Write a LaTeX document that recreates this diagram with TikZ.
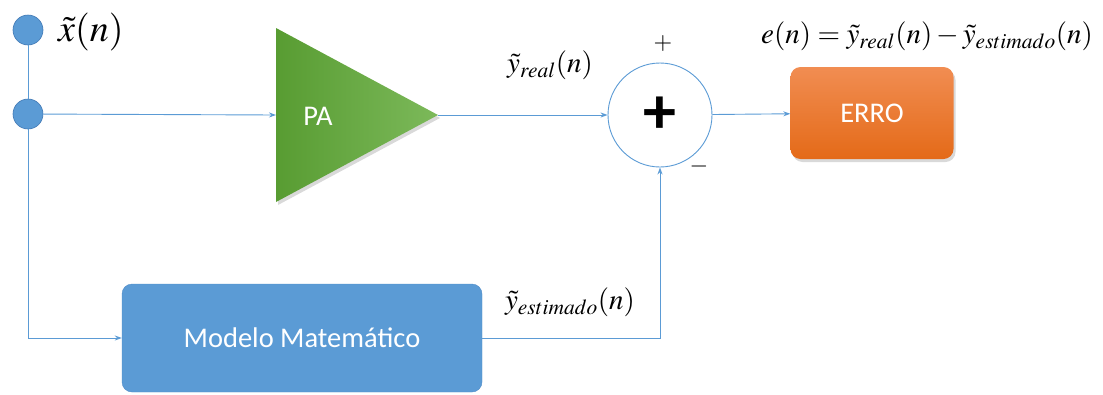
\documentclass[tikz,border=0pt]{standalone}
\usepackage{mathptmx}
\usepackage{fontspec}
\setmainfont{Carlito}
\usetikzlibrary{positioning,calc,arrows.meta,shadows}
\definecolor{lineblue}{RGB}{91,155,213}
\definecolor{dotblue}{RGB}{91,155,213}
\definecolor{dotedge}{RGB}{65,120,180}
\definecolor{paleft}{RGB}{88,156,50}
\definecolor{paright}{RGB}{124,185,90}
\definecolor{errotop}{RGB}{241,141,82}
\definecolor{errobot}{RGB}{228,106,24}
\definecolor{modelfill}{RGB}{91,155,213}
\definecolor{modeledge}{RGB}{80,140,200}

\begin{document}
\begin{tikzpicture}[
    x=1pt, y=-1pt,
    >={Stealth[length=7pt,width=5pt]},
    wire/.style={draw=lineblue, line width=0.9pt},
    arr/.style={wire, ->},
    dot/.style={circle, fill=dotblue, draw=dotedge, line width=0.6pt, minimum size=30pt, inner sep=0pt},
    block/.style={rounded corners=10pt, align=center, text=white, inner sep=0pt,
                  font=\fontsize{28.5}{30}\selectfont},
    model/.style={block, fill=modelfill, draw=modeledge, minimum width=360pt, minimum height=108pt},
    errobox/.style={block, top color=errotop, bottom color=errobot, minimum width=163pt, minimum height=92pt,
                    drop shadow={opacity=0.3, shadow xshift=2pt, shadow yshift=-3pt}},
    sumop/.style={circle, draw=lineblue, line width=0.9pt, fill=white, minimum size=104pt, inner sep=0pt,
                  font=\fontsize{66}{66}\selectfont\bfseries},
    lab/.style={font=\fontsize{29}{30}\selectfont, inner sep=0pt},
    sign/.style={font=\fontsize{24}{26}\selectfont, inner sep=0pt},
  ]
    \useasboundingbox (0,0) rectangle (1103,394);
    % input taps
    \node[dot] (xin)  at (28,30)  {};
    \node[dot] (xtap) at (28,114) {};
    \node[lab, font=\fontsize{38}{40}\selectfont, anchor=west] (xlab) at (58,32) {$\tilde{x}(n)$};
    % power amplifier
    \path[left color=paleft, right color=paright,
          drop shadow={opacity=0.3, shadow xshift=2pt, shadow yshift=-3pt}]
      (276,28) -- (438,115) -- (276,202) -- cycle;
    \coordinate (pain)  at (276,115);
    \coordinate (paout) at (438,115);
    \node[block] (pa) at (318,116) {PA};
    % sum and error
    \node[sumop] (sum) at (660,115) {+};
    \node[sign] (plus)  at (663,44)  {$+$};
    \node[sign] (minus) at (699,166) {$-$};
    \node[errobox] (erro) at (872,113) {ERRO};
    % model
    \node[model] (model) at (302,338) {Modelo Matemático};
    % signal labels
    \node[lab] (yreal) at (550,65)  {$\tilde{y}_{real}(n)$};
    \node[lab] (yest)  at (570,302) {$\tilde{y}_{estimado}(n)$};
    \node[lab] (eq)    at (927,36)  {$e(n)=\tilde{y}_{real}(n)-\tilde{y}_{estimado}(n)$};
    % connections
    \draw[wire] (xin) -- (xtap);
    \draw[arr] (xtap) |- (model.west);
    \draw[arr] (xtap) -- (pain);
    \draw[arr] (paout) -- (sum);
    \draw[arr] (sum) -- (erro);
    \draw[arr] (model.east) -| (sum.south);
\end{tikzpicture}
\end{document}
